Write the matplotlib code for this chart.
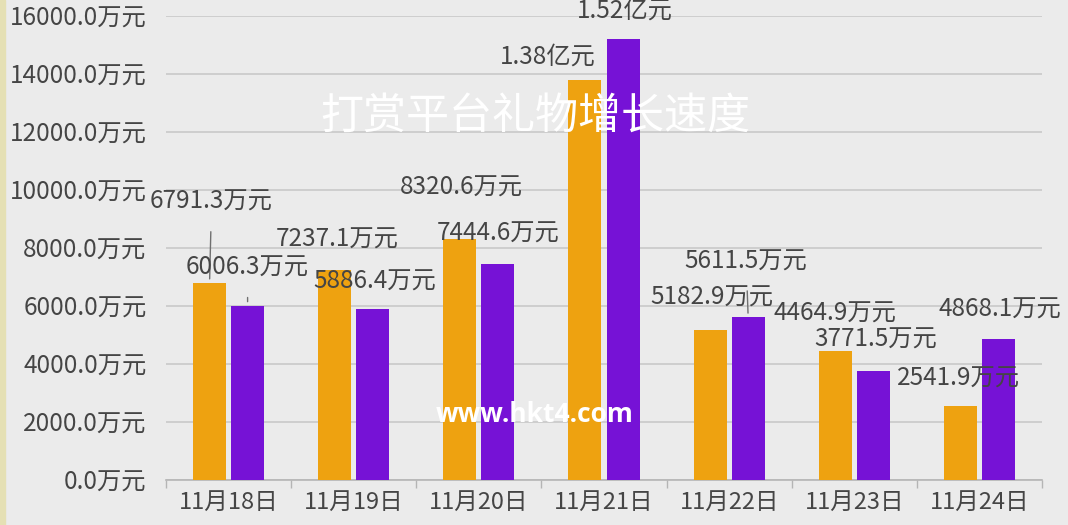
import numpy as np
import matplotlib
import matplotlib.pyplot as plt
from matplotlib.patches import Rectangle

matplotlib.use("Agg")
plt.rcParams['font.family'] = ['Noto Sans CJK SC', 'DejaVu Sans']

dates = ["11月18日", "11月19日", "11月20日", "11月21日", "11月22日", "11月23日", "11月24日"]
orange_vals = [6791.3, 7237.1, 8320.6, 13800.0, 5182.9, 4464.9, 2541.9]
purple_vals = [6006.3, 5886.4, 7444.6, 15200.0, 5611.5, 3771.5, 4868.1]
orange_labels = ["6791.3万元", "7237.1万元", "8320.6万元", "1.38亿元", "5182.9万元", "4464.9万元", "2541.9万元"]
purple_labels = ["6006.3万元", "5886.4万元", "7444.6万元", "1.52亿元", "5611.5万元", "3771.5万元", "4868.1万元"]
yticks = [0, 2000, 4000, 6000, 8000, 10000, 12000, 14000, 16000]

# label offsets in pixels (dx, dy) from bar top, and whether a leader line is drawn
orange_off = [(2, 81, True), (2, 30, False), (2, 51, False), (-37, 23, False),
              (2, 32, False), (0, 37, False), (-2, 28, False)]
purple_off = [(0, 38, True), (2, 28, False), (0, 30, False), (2, 29, False),
              (-2, 56, True), (2, 31, False), (1, 29, False)]

BG = "#ebebeb"
TXT = "#454545"
ORANGE = "#eea210"
PURPLE = "#7612d6"

fig = plt.figure(figsize=(10.68, 5.25), dpi=100, facecolor=BG)
ax = fig.add_axes([166 / 1068, 45 / 525, 876 / 1068, 464 / 525])
ax.set_facecolor(BG)

fig.patches.append(Rectangle((0, 0), 5 / 1068, 1, transform=fig.transFigure,
                             color="#e5e0b4", zorder=0))

x = np.arange(len(dates))
w = 0.264
off = 0.152
ax.bar(x - off, orange_vals, width=w, color=ORANGE, zorder=3)
ax.bar(x + off, purple_vals, width=w, color=PURPLE, zorder=3)

ax.set_xlim(-0.5, len(dates) - 0.5)
ax.set_ylim(0, 16000)
ax.set_yticks(yticks)
ax.set_yticklabels([f"{v:.1f}万元" for v in yticks], fontsize=17.5, color=TXT)
ax.yaxis.grid(True, color="#c9c9c9", linewidth=1.2, zorder=0)
ax.tick_params(axis="y", length=0, pad=14)

ax.set_xticks(x)
ax.set_xticklabels(dates, fontsize=17, color=TXT)
ax.set_xticks(np.arange(len(dates) + 1) - 0.5, minor=True)
ax.tick_params(axis="x", which="major", length=0, pad=8)
ax.tick_params(axis="x", which="minor", length=6, color="#b5b5b5", width=1)

for s in ["top", "right", "left"]:
    ax.spines[s].set_visible(False)
ax.spines["bottom"].set_color("#b5b5b5")
ax.spines["bottom"].set_linewidth(1.2)


def add_labels(vals, labels, offsets, shift):
    for i, (v, lab, (dx, dy, lead)) in enumerate(zip(vals, labels, offsets)):
        props = dict(arrowstyle="-", color="#707070", lw=1, shrinkA=10, shrinkB=3) if lead else None
        ax.annotate(lab, xy=(i + shift, v), xytext=(dx * 0.72, dy * 0.72),
                    textcoords="offset points", ha="center", va="center",
                    fontsize=17.5, color=TXT, arrowprops=props, zorder=5)


add_labels(orange_vals, orange_labels, orange_off, -off)
add_labels(purple_vals, purple_labels, purple_off, off)

fig.text(535 / 1068, 1 - 117 / 525, "打赏平台礼物增长速度", color="white",
         fontsize=31, ha="center", va="center", fontweight="light", zorder=10)
fig.text(535 / 1068, 1 - 414 / 525, "www.hkt4.com", color="white",
         fontsize=19, ha="center", va="center", fontweight="bold",
         family=["Open Sans", "DejaVu Sans"], zorder=10)

fig.savefig("out.png", dpi=100, facecolor=BG)
